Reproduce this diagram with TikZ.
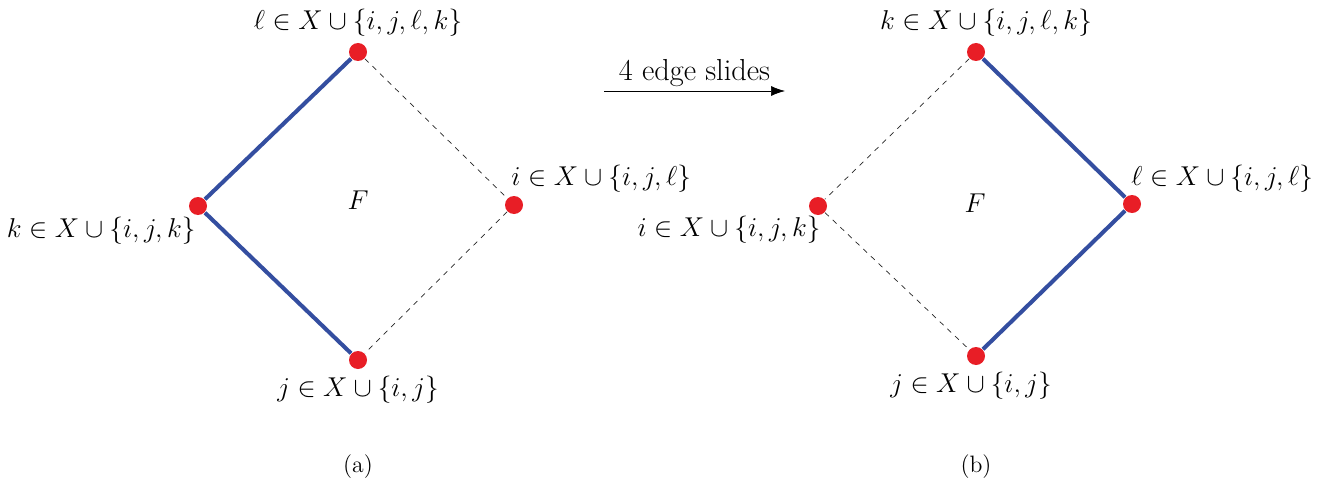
\RequirePackage{fix-cm}
\documentclass[tikz,border=0pt]{standalone}
\usepackage{tikz}
\usetikzlibrary{calc, positioning, arrows.meta}

\definecolor{edgeblue}{RGB}{52,78,160}
\definecolor{dotred}{RGB}{232,30,38}

\tikzset{
    vert/.style={circle, fill=dotred, inner sep=0pt, minimum size=0.36cm},
    solidedge/.style={draw=edgeblue, line width=2.3pt},
    dashedge/.style={draw=black!85, dashed, thin},
    lbl/.style={font=\fontsize{15.5}{18}\selectfont, inner sep=1pt}
}

\begin{document}
\begin{tikzpicture}[thick, >={Latex[length=2.8mm, width=2mm]}]
        \useasboundingbox (0,0) rectangle (26.56,-9.76);

        % left picture
        \node[vert] (lt) at (7.16,-1.04) {};
        \node[vert] (ll) at (3.96,-4.12) {};
        \node[vert] (lr) at (10.28,-4.10) {};
        \node[vert] (lb) at (7.16,-7.20) {};
        \node[lbl] (lf) at (7.16,-4.0) {$F$};

        \draw[solidedge] (lt) -- (ll) -- (lb);
        \draw[dashedge] (lt) -- (lr) -- (lb);

        \node[lbl, above=0.08cm of lt] (ltl) {$\ell \in X \cup \{i,j,\ell,k\}$};
        \node[lbl, anchor=north east] (lll) at ($(ll)+(0.0,-0.18)$) {$k \in X \cup \{i,j,k\}$};
        \node[lbl, anchor=south west] (lrl) at ($(lr)+(-0.1,0.2)$) {$i \in X \cup \{i,j,\ell\}$};
        \node[lbl, below=0.08cm of lb] (lbl) {$j \in X \cup \{i,j\}$};

        % right picture
        \node[vert] (rt) at (19.52,-1.04) {};
        \node[vert] (rl) at (16.36,-4.12) {};
        \node[vert] (rr) at (22.64,-4.08) {};
        \node[vert] (rb) at (19.52,-7.12) {};
        \node[lbl] (rf) at (19.5,-4.06) {$F$};

        \draw[solidedge] (rt) -- (rr) -- (rb);
        \draw[dashedge] (rt) -- (rl) -- (rb);

        \node[lbl, above=0.08cm of rt, xshift=0.2cm] (rtl) {$k \in X \cup \{i,j,\ell,k\}$};
        \node[lbl, anchor=north east] (rll) at ($(rl)+(0.1,-0.16)$) {$i \in X \cup \{i,j,k\}$};
        \node[lbl, anchor=south west] (rrl) at ($(rr)+(-0.06,0.18)$) {$\ell \in X \cup \{i,j,\ell\}$};
        \node[lbl, below=0.08cm of rb, xshift=-0.1cm] (rbl) {$j \in X \cup \{i,j\}$};

        % slide arrow
        \coordinate (as) at (12.08,-1.82);
        \coordinate (ae) at (15.7,-1.82);
        \draw[->, thin] (as) -- node[above, font=\LARGE, inner sep=2pt] (slide) {4 edge slides} (ae);

        \node[font=\fontsize{13.5}{16}\selectfont] (capa) at (7.16,-9.34) {(a)};
        \node[font=\fontsize{13.5}{16}\selectfont] (capb) at (19.52,-9.34) {(b)};
    \end{tikzpicture}
\end{document}
